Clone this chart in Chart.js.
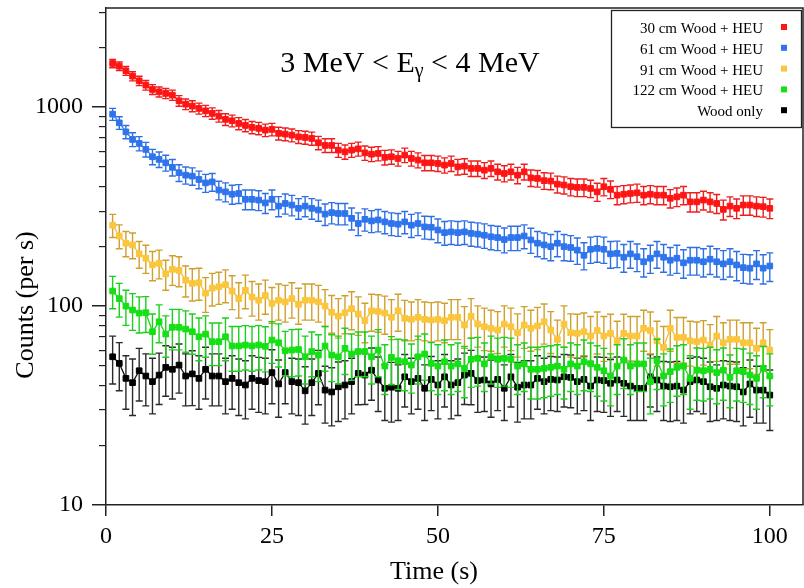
<!DOCTYPE html>
<html>
<head>
<meta charset="utf-8">
<script src="https://cdn.jsdelivr.net/npm/chart.js@4.4.1/dist/chart.umd.min.js"></script>
<style>
  html, body { margin: 0; padding: 0; background: #fff; }
  canvas { display: block; }
</style>
</head>
<body>
<canvas id="chart" width="804" height="588"></canvas>
<script>
// time bins (s)
const times = [
  1, 2, 3, 4, 5, 6, 7, 8, 9, 10, 11, 12, 13, 14, 15, 16, 17, 18, 19, 20,
  21, 22, 23, 24, 25, 26, 27, 28, 29, 30, 31, 32, 33, 34, 35, 36, 37, 38, 39, 40,
  41, 42, 43, 44, 45, 46, 47, 48, 49, 50, 51, 52, 53, 54, 55, 56, 57, 58, 59, 60,
  61, 62, 63, 64, 65, 66, 67, 68, 69, 70, 71, 72, 73, 74, 75, 76, 77, 78, 79, 80,
  81, 82, 83, 84, 85, 86, 87, 88, 89, 90, 91, 92, 93, 94, 95, 96, 97, 98, 99, 100
]

const xTicks = [0, 25, 50, 75, 100]
const yMajorTicks = [10, 100, 1000]
const yMinorTicks = [20, 30, 40, 50, 60, 70, 80, 90, 200, 300, 400, 500, 600, 700, 800, 900, 2000, 3000]

// 30 cm Wood + HEU
const wood30 = [
  1658, 1607, 1522, 1431, 1356, 1290, 1227, 1194, 1172, 1149,
  1076, 1035, 1012, 985, 958, 930, 901, 868, 854, 828,
  809, 791, 782, 766, 773, 738, 732, 723, 709, 704,
  696, 662, 642, 642, 608, 596, 608, 617, 589, 580,
  585, 559, 563, 552, 574, 552, 542, 525, 525, 521,
  511, 521, 501, 505, 492, 492, 482, 492, 473, 464,
  473, 455, 473, 441, 438, 427, 425, 410, 406, 398,
  395, 395, 390, 375, 398, 386, 361, 365, 368, 371,
  361, 365, 361, 361, 348, 354, 361, 334, 334, 341,
  334, 328, 306, 318, 310, 322, 322, 318, 316, 310
]
const wood30Err = [
  81, 80, 78, 76, 74, 72, 70, 69, 68, 68,
  66, 64, 64, 63, 62, 61, 60, 59, 58, 58,
  57, 56, 56, 55, 56, 54, 54, 54, 53, 53,
  53, 51, 51, 51, 49, 49, 49, 50, 49, 48,
  48, 47, 47, 47, 48, 47, 47, 46, 46, 46,
  45, 46, 45, 45, 44, 44, 44, 44, 43, 43,
  43, 43, 43, 42, 42, 41, 41, 40, 40, 40,
  40, 40, 39, 39, 40, 39, 38, 38, 38, 39,
  38, 38, 38, 38, 37, 38, 38, 37, 37, 37,
  37, 36, 35, 36, 35, 36, 36, 36, 36, 35
]

// 61 cm Wood + HEU
const wood61 = [
  922, 834, 751, 688, 657, 613, 563, 546, 525, 498,
  468, 455, 450, 433, 416, 421, 383, 375, 365, 368,
  344, 344, 341, 330, 344, 318, 328, 322, 310, 318,
  310, 304, 290, 295, 292, 292, 276, 260, 273, 268,
  271, 265, 260, 258, 265, 255, 260, 250, 249, 241,
  234, 236, 234, 236, 232, 230, 227, 223, 221, 216,
  221, 221, 225, 215, 207, 203, 199, 207, 199, 197,
  191, 180, 193, 195, 193, 183, 184, 176, 183, 177,
  167, 174, 183, 176, 170, 174, 165, 170, 170, 167,
  172, 167, 163, 167, 161, 156, 155, 163, 155, 159
]
const wood61Err = [
  64, 61, 58, 55, 54, 52, 50, 49, 48, 47,
  45, 45, 45, 44, 43, 43, 41, 41, 40, 40,
  39, 39, 39, 38, 39, 37, 38, 38, 37, 37,
  37, 37, 36, 36, 36, 36, 35, 34, 35, 34,
  35, 34, 34, 34, 34, 34, 34, 33, 33, 33,
  32, 32, 32, 32, 32, 32, 32, 31, 31, 31,
  31, 31, 31, 31, 30, 30, 30, 30, 30, 29,
  29, 28, 29, 29, 29, 28, 28, 28, 28, 28,
  27, 28, 28, 28, 27, 28, 27, 27, 27, 27,
  28, 27, 27, 27, 27, 26, 26, 27, 26, 26
]

// 91 cm Wood + HEU
const wood91 = [
  255, 225, 207, 203, 183, 174, 161, 164, 145, 153,
  151, 135, 130, 131, 116, 123, 125, 128, 119, 109,
  120, 111, 107, 113, 103, 107, 105, 109, 102, 107,
  107, 105, 100, 93, 89, 92.6, 97, 91.2, 84.4, 94.7,
  93.9, 92.2, 87.8, 94.7, 86.8, 85.8, 87.8, 85.8, 85.1, 85.8,
  84.4, 87.8, 87.8, 80.3, 89, 81.2, 78.7, 77.3, 75.8, 81.2,
  78.7, 73.4, 80.3, 77.3, 79.5, 83.4, 75.8, 68.0, 81.2, 73.4,
  72.9, 74.3, 70.7, 75.4, 70.7, 72.9, 66.9, 72.9, 70.7, 70.7,
  77.3, 75.4, 66.9, 62.0, 77.3, 69.6, 69.6, 66.9, 66.2, 67.5,
  63.7, 70.7, 65.4, 68.0, 68.0, 65.4, 65.4, 61.3, 65.4, 60.1
]
const wood91Err = [
  34, 31, 30, 30, 28, 28, 27, 27, 25, 26,
  26, 24, 24, 24, 23, 23, 23, 24, 23, 22,
  23, 22, 22, 22, 21, 22, 22, 22, 21, 22,
  22, 22, 21, 20, 20, 20, 21, 20, 19, 20,
  20, 20, 20, 20, 20, 19, 20, 19, 19, 19,
  19, 20, 20, 19, 20, 19, 19, 18, 18, 19,
  19, 18, 19, 18, 19, 19, 18, 17, 19, 18,
  18, 18, 18, 18, 18, 18, 17, 18, 18, 18,
  18, 18, 17, 17, 18, 18, 18, 17, 17, 17,
  17, 18, 17, 17, 17, 17, 17, 16, 17, 16
]

// 122 cm Wood + HEU
const wood122 = [
  119, 109, 100, 95.5, 92.2, 92.6, 74.3, 83.4, 72.3, 78.2,
  78.2, 76.6, 74.3, 70.1, 72.3, 66.2, 66.2, 70.1, 63.0, 63.0,
  63.7, 63.0, 63.7, 62.7, 67.5, 65.4, 59.6, 60.1, 60.5, 55.6,
  59.1, 56.7, 63.0, 56.7, 55.6, 61.3, 57.4, 59.1, 59.1, 55.6,
  60.1, 49.9, 55.2, 53.1, 52.5, 50.5, 55.6, 57.4, 51.5, 49.9,
  52.5, 49.9, 51.2, 48.6, 54.0, 54.6, 51.2, 55.6, 54.0, 54.6,
  54.0, 49.9, 51.2, 48.1, 48.1, 48.6, 49.2, 49.9, 48.1, 51.2,
  49.9, 52.5, 51.2, 49.2, 47.3, 44.5, 49.9, 53.5, 49.9, 51.2,
  51.2, 41.7, 53.1, 44.5, 46.8, 49.2, 49.9, 43.3, 47.6, 47.3,
  48.1, 46.3, 47.6, 43.8, 47.3, 46.8, 45.0, 43.3, 48.6, 44.5
]
const wood122Err = [
  22, 21, 20, 20, 19, 19, 17, 18, 17, 18,
  18, 18, 17, 17, 17, 16, 16, 17, 16, 16,
  16, 16, 16, 16, 16, 16, 15, 16, 16, 15,
  15, 15, 16, 15, 15, 16, 15, 15, 15, 15,
  16, 14, 15, 15, 15, 14, 15, 15, 14, 14,
  15, 14, 14, 14, 15, 15, 14, 15, 15, 15,
  15, 14, 14, 14, 14, 14, 14, 14, 14, 14,
  14, 15, 14, 14, 14, 13, 14, 15, 14, 14,
  14, 13, 15, 13, 14, 14, 14, 13, 14, 14,
  14, 14, 14, 13, 14, 14, 13, 13, 14, 13
]

// Wood only
const woodOnly = [
  55.6, 51.5, 43.3, 41.2, 47.3, 44.5, 41.7, 45.0, 49.2, 48.1,
  50.5, 44.5, 45.6, 43.3, 48.1, 44.5, 44.5, 41.7, 43.3, 41.2,
  40.1, 43.3, 42.2, 41.7, 46.3, 40.6, 46.3, 41.7, 41.2, 37.5,
  41.2, 45.9, 37.8, 37.0, 39.3, 40.1, 41.7, 45.9, 45.0, 47.6,
  42.5, 38.6, 39.1, 38.6, 44.1, 41.7, 43.3, 38.6, 42.8, 40.1,
  44.1, 40.1, 41.2, 45.0, 45.9, 42.2, 42.5, 40.6, 42.8, 38.6,
  44.1, 39.1, 40.1, 40.1, 43.3, 41.7, 42.8, 42.5, 44.1, 43.8,
  41.7, 42.8, 39.6, 42.5, 42.2, 40.9, 42.5, 40.9, 39.6, 38.6,
  38.6, 44.1, 42.5, 39.6, 39.3, 39.6, 37.8, 41.7, 42.5, 41.7,
  39.3, 38.6, 40.1, 39.6, 39.3, 37.0, 40.6, 37.8, 37.8, 35.7
]
const woodOnlyErr = [
  15, 14, 13, 13, 14, 13, 13, 13, 14, 14,
  14, 13, 14, 13, 14, 13, 13, 13, 13, 13,
  13, 13, 13, 13, 14, 13, 14, 13, 13, 12,
  13, 14, 12, 12, 13, 13, 13, 14, 13, 14,
  13, 12, 13, 12, 13, 13, 13, 12, 13, 13,
  13, 13, 13, 13, 14, 13, 13, 13, 13, 12,
  13, 13, 13, 13, 13, 13, 13, 13, 13, 13,
  13, 13, 13, 13, 13, 13, 13, 13, 13, 12,
  12, 13, 13, 13, 13, 13, 12, 13, 13, 13,
  13, 12, 13, 13, 13, 12, 13, 12, 12, 12
]

const serif = "'Liberation Serif', 'Times New Roman', serif"
Chart.defaults.font.family = serif
Chart.defaults.color = '#000'

// vertical error bars with caps, drawn under each dataset's markers
const errorBars = {
  id: 'errorBars',
  beforeDatasetDraw(chart, args) {
    const ds = chart.data.datasets[args.index]
    const yScale = chart.scales.y
    const area = chart.chartArea
    const ctx = chart.ctx
    ctx.save()
    ctx.beginPath()
    ctx.rect(area.left, area.top, area.right - area.left, area.bottom - area.top)
    ctx.clip()
    ctx.strokeStyle = ds.errorColor
    ctx.lineWidth = 1.4
    ctx.beginPath()
    args.meta.data.forEach((pt, i) => {
      const v = ds.data[i]
      const e = ds.errors[i]
      const top = yScale.getPixelForValue(v + e)
      const bot = yScale.getPixelForValue(v - e)
      ctx.moveTo(pt.x, top)
      ctx.lineTo(pt.x, bot)
      ctx.moveTo(pt.x - 3.5, top)
      ctx.lineTo(pt.x + 3.5, top)
      ctx.moveTo(pt.x - 3.5, bot)
      ctx.lineTo(pt.x + 3.5, bot)
    })
    ctx.stroke()
    ctx.restore()
  }
}

// frame, axis titles, energy label and legend box
const decorations = {
  id: 'decorations',
  afterDraw(chart) {
    const ctx = chart.ctx
    const a = chart.chartArea
    ctx.save()
    ctx.strokeStyle = '#222'
    ctx.lineWidth = 1.5
    ctx.beginPath()
    ctx.moveTo(a.left, a.top)
    ctx.lineTo(a.right, a.top)
    ctx.lineTo(a.right, a.bottom)
    ctx.stroke()

    ctx.fillStyle = '#000'
    ctx.font = `26px ${serif}`
    ctx.textAlign = 'center'
    ctx.textBaseline = 'alphabetic'
    ctx.fillText('Time (s)', 434, 579)
    ctx.save()
    ctx.translate(33, 305)
    ctx.rotate(-Math.PI / 2)
    ctx.fillText('Counts (per s)', 0, 0)
    ctx.restore()

    // 3 MeV < E_gamma < 4 MeV
    const big = `30px ${serif}`
    const small = `20px ${serif}`
    const pre = '3 MeV < E'
    const sub = 'γ'
    const post = ' < 4 MeV'
    ctx.textAlign = 'left'
    ctx.font = big
    const w1 = ctx.measureText(pre).width
    const w3 = ctx.measureText(post).width
    ctx.font = small
    const w2 = ctx.measureText(sub).width
    const x0 = 410 - (w1 + w2 + w3) / 2
    const base = 72
    ctx.font = big
    ctx.fillText(pre, x0, base)
    ctx.font = small
    ctx.fillText(sub, x0 + w1, base + 5)
    ctx.font = big
    ctx.fillText(post, x0 + w1 + w2, base)

    // legend
    const lx = 611.5, ly = 10.5, lw = 190, lh = 117
    ctx.fillStyle = '#fff'
    ctx.fillRect(lx, ly, lw, lh)
    ctx.strokeStyle = '#222'
    ctx.lineWidth = 1.3
    ctx.strokeRect(lx, ly, lw, lh)
    ctx.font = `15px ${serif}`
    ctx.textAlign = 'right'
    ctx.textBaseline = 'middle'
    chart.data.datasets.forEach((ds, i) => {
      const yy = 29 + i * 20.8
      ctx.fillStyle = '#000'
      ctx.fillText(ds.label, 763, yy)
      ctx.fillStyle = ds.pointBackgroundColor
      ctx.fillRect(781, yy - 5, 6, 6)
    })
    ctx.restore()
  }
}

function series(label, data, errors, color, errorColor, lineColor, order) {
  return {
    label: label,
    data: data,
    errors: errors,
    errorColor: errorColor,
    borderColor: lineColor,
    borderWidth: 1.3,
    pointStyle: 'rect',
    pointRadius: 4,
    pointBorderWidth: 1,
    pointBackgroundColor: color,
    pointBorderColor: color,
    fill: false,
    tension: 0,
    order: order
  }
}

const ctx = document.getElementById('chart')

new Chart(ctx, {
  type: 'line',
  data: {
    labels: times,
    datasets: [
      series('30 cm Wood + HEU', wood30, wood30Err, '#ff1414', '#f01c1c', '#ff2a2a', 0),
      series('61 cm Wood + HEU', wood61, wood61Err, '#2e74ec', '#2f6fe4', '#3a7cee', 1),
      series('91 cm Wood + HEU', wood91, wood91Err, '#fbc63c', '#d0a02e', '#efbd42', 3),
      series('122 cm Wood + HEU', wood122, wood122Err, '#14e014', '#1ccf1c', '#22d622', 2),
      series('Wood only', woodOnly, woodOnlyErr, '#000000', '#2a2a2a', '#111111', 4)
    ]
  },
  options: {
    responsive: false,
    animation: false,
    layout: { autoPadding: false, padding: { top: 8, right: 1, left: 0, bottom: 0 } },
    plugins: {
      legend: { display: false },
      tooltip: { enabled: false }
    },
    scales: {
      x: {
        type: 'linear',
        min: 0,
        max: 105,
        afterBuildTicks: s => { s.ticks = xTicks.map(v => ({ value: v })) },
        afterFit: s => { s.height = 83; s.paddingLeft = 0; s.paddingRight = 0 },
        grid: { drawOnChartArea: false, tickLength: 11, color: '#222', lineWidth: 1.5 },
        border: { color: '#222', width: 1.5 },
        ticks: { font: { size: 24 }, color: '#000', padding: 6, maxRotation: 0, autoSkip: false }
      },
      y: {
        type: 'logarithmic',
        position: 'left',
        weight: 1,
        min: 10,
        max: 3150,
        afterBuildTicks: s => { s.ticks = yMajorTicks.map(v => ({ value: v })) },
        afterFit: s => { s.width = 106; s.paddingTop = 0; s.paddingBottom = 0 },
        grid: { drawOnChartArea: false, tickLength: 14, color: '#222', lineWidth: 1.5 },
        border: { color: '#222', width: 1.5 },
        ticks: { font: { size: 24 }, color: '#000', padding: 9, autoSkip: false, callback: v => String(v) }
      },
      yMinor: {
        type: 'logarithmic',
        position: 'left',
        weight: 0,
        min: 10,
        max: 3150,
        afterBuildTicks: s => { s.ticks = yMinorTicks.map(v => ({ value: v })) },
        afterFit: s => { s.width = 0; s.paddingTop = 0; s.paddingBottom = 0 },
        grid: { drawOnChartArea: false, tickLength: 7, color: '#222', lineWidth: 1.2 },
        border: { display: false },
        ticks: { display: false, autoSkip: false }
      }
    }
  },
  plugins: [errorBars, decorations]
})
</script>
</body>
</html>
